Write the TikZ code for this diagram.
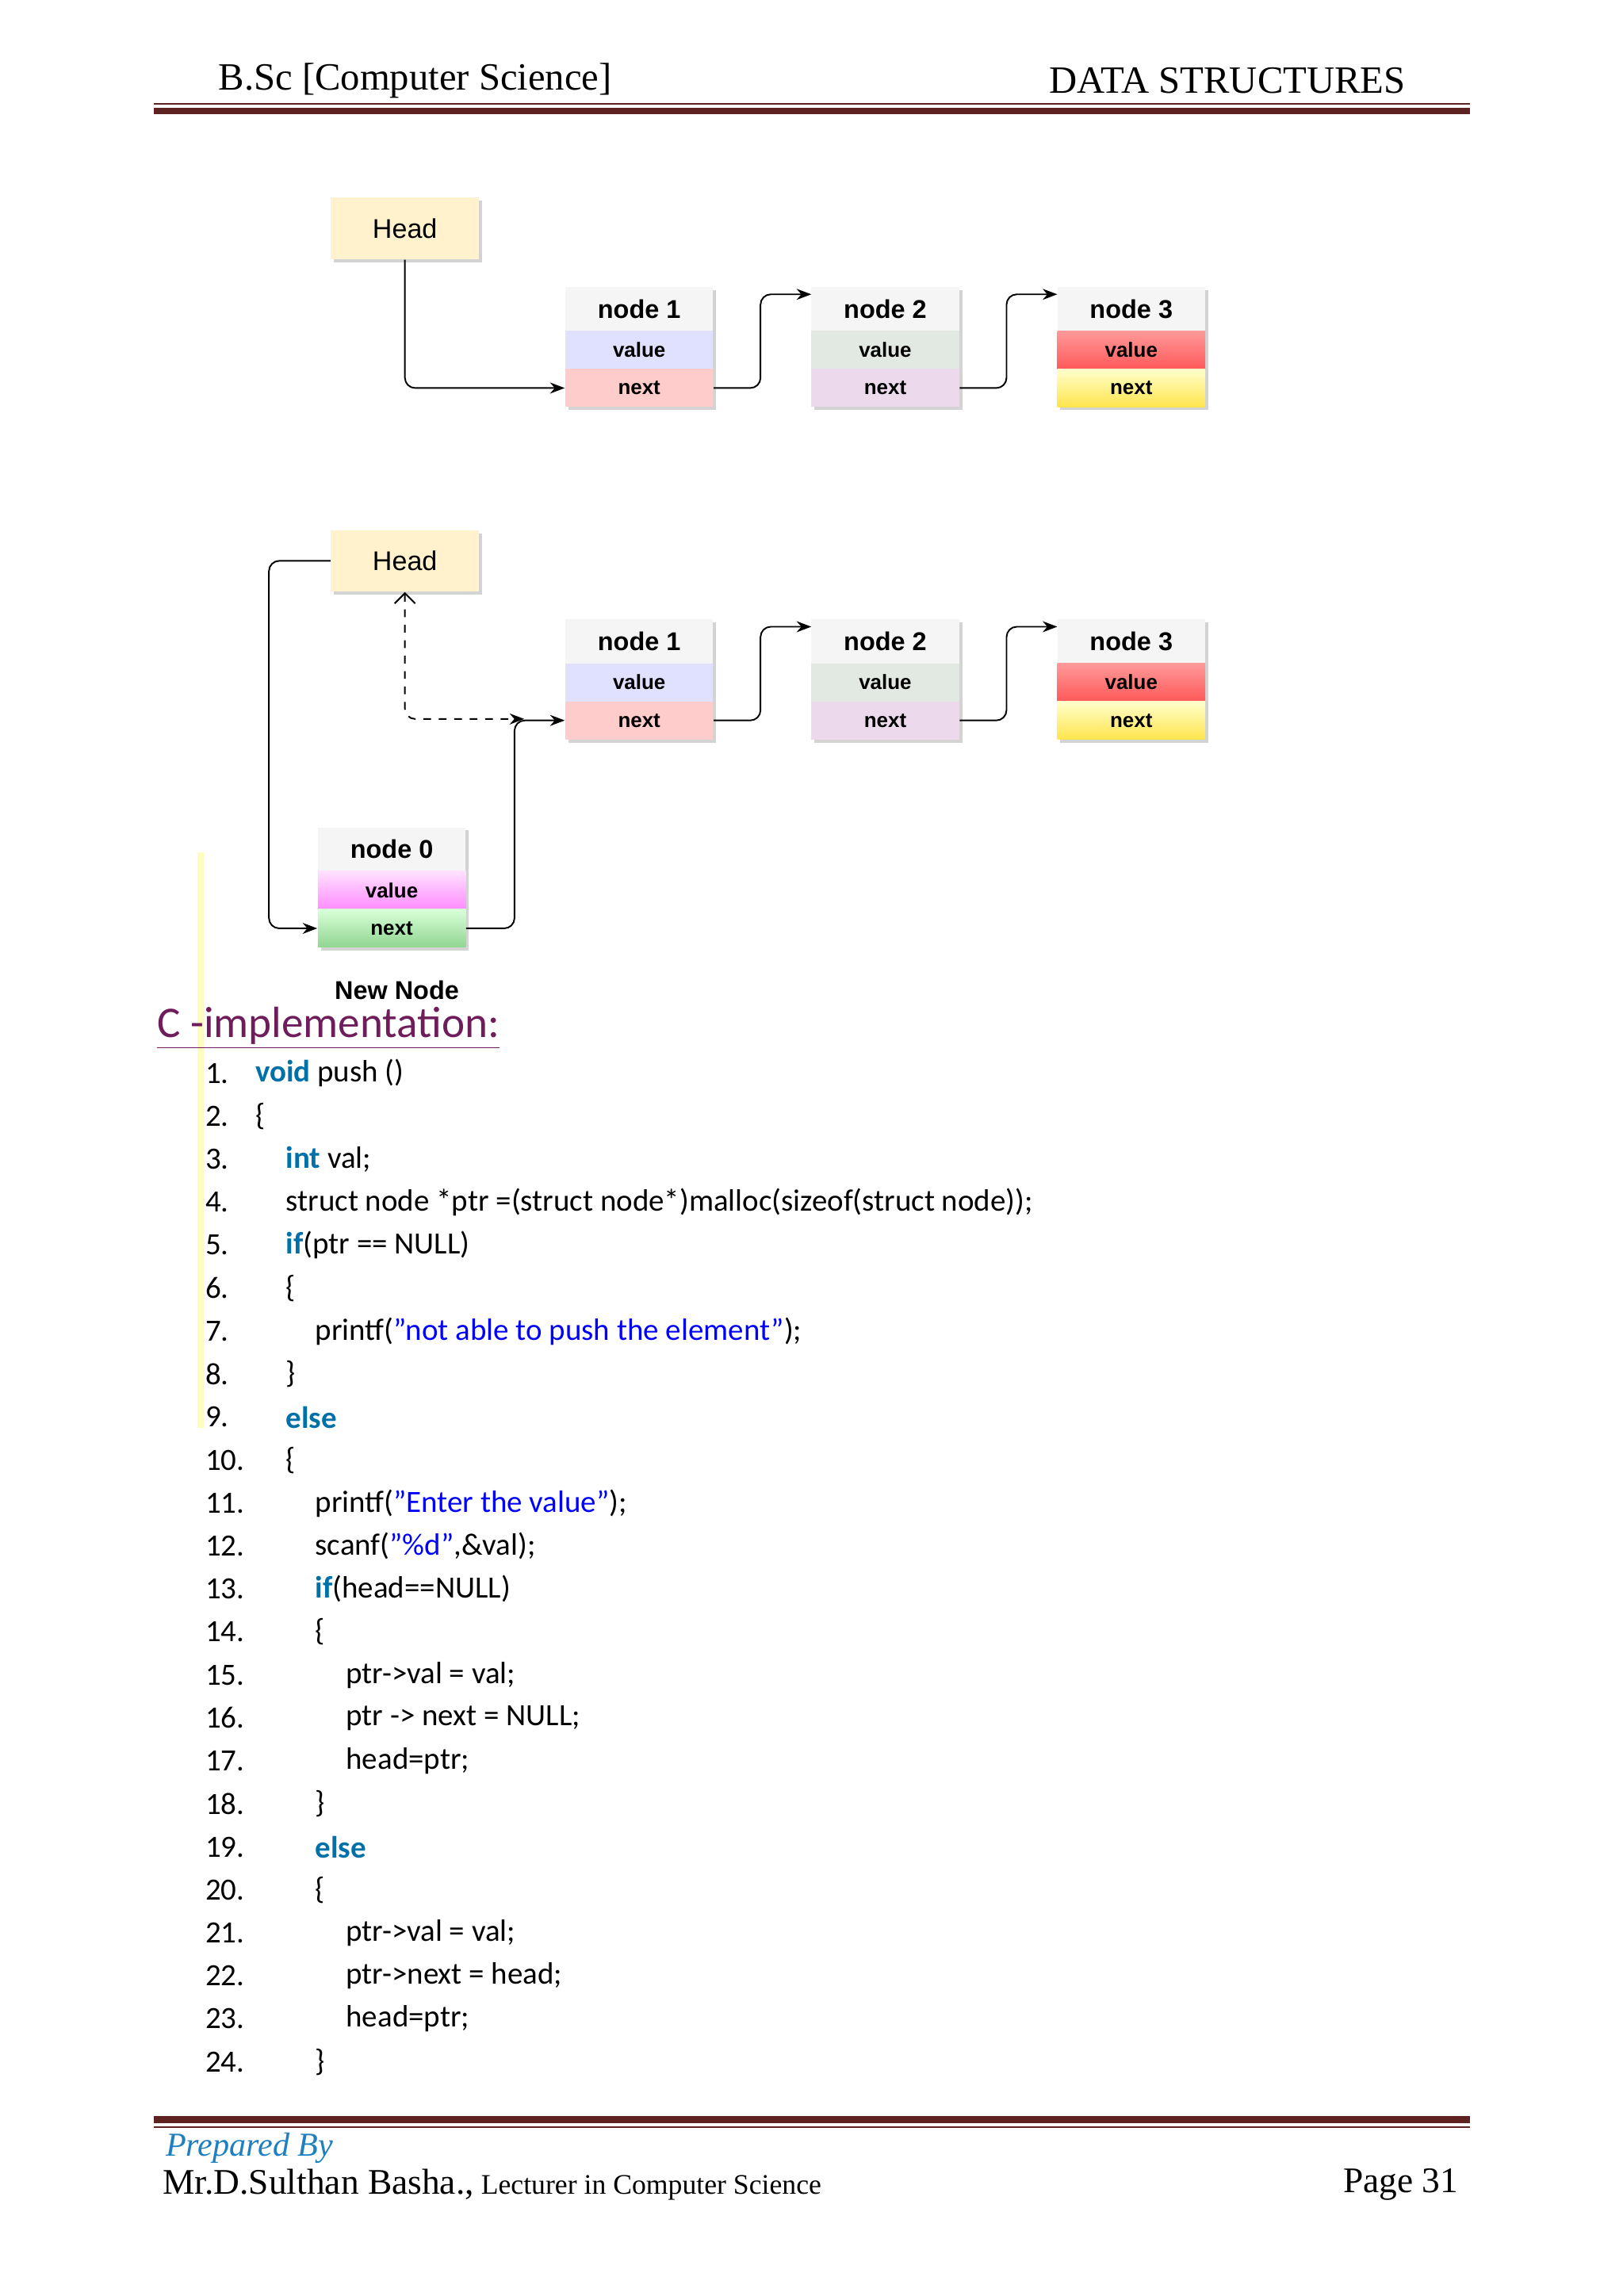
\documentclass[tikz,border=0pt]{standalone}
\usepackage{fontspec}
\setmainfont{Carlito}
\newfontfamily\hdrfont{Liberation Serif}
\newfontfamily\diagfont{Liberation Sans}
\usepackage{tikz}
\usetikzlibrary{arrows.meta,positioning,shadows}
\tikzset{>=Stealth}
\definecolor{rulered}{HTML}{5E2220}
\definecolor{kwblue}{HTML}{0070A8}
\definecolor{strblue}{HTML}{0000FF}
\definecolor{titlemag}{HTML}{6F1D5A}
\definecolor{prepblue}{HTML}{1F7FC0}
\definecolor{headfill}{HTML}{FFF2CC}
\definecolor{titlefill}{HTML}{F5F5F5}
\newcommand{\kw}[1]{\textcolor{kwblue}{\textbf{#1}}}
\newcommand{\str}[1]{\textcolor{strblue}{#1}}
% one numbered code line: number, indent (px), text
\newcommand{\codeline}[3]{%
  \node[code] (cn#1) at (140,{733+29.35*(#1-1)}) {#1.};
  \node[code] (cl#1) at (#2,{733+29.35*(#1-1)}) {#3};}

\begin{document}
\begin{tikzpicture}[x=0.02cm,y=-0.02cm,
  box/.style={draw=none,minimum width=2.02cm,inner sep=0pt,font=\diagfont,
    drop shadow={shadow xshift=1.2pt,shadow yshift=-1.2pt,opacity=.35,fill=gray}},
  ttl/.style={box,fill=titlefill,minimum height=0.6cm,font=\diagfont\bfseries\fontsize{10}{12}\selectfont},
  fld/.style={box,minimum height=0.52cm,font=\diagfont\bfseries\fontsize{8}{10}\selectfont},
  head/.style={box,fill=headfill,minimum width=2.02cm,minimum height=0.84cm,font=\diagfont\fontsize{10.5}{12}\selectfont},
  link/.style={->,rounded corners=4pt,line width=0.6pt},
  code/.style={anchor=west,inner sep=0pt,font=\fontsize{12}{14}\selectfont}]
\useasboundingbox (0,0) rectangle (1108,1568);

% Header and footer
\node[anchor=west,font=\hdrfont\fontsize{15}{17}\selectfont] (hl) at (143,55) {B.Sc [Computer Science]};
\node[anchor=east,font=\hdrfont\fontsize{15}{17}\selectfont] (hr) at (966,55) {DATA STRUCTURES};
\fill[rulered] (105,73.5) rectangle (1004,78);
\fill[rulered] (105,70.5) rectangle (1004,71.5);
\fill[rulered] (105,1445) rectangle (1004,1450);
\fill[rulered] (105,1452) rectangle (1004,1453);
\node[anchor=west,font=\hdrfont\itshape\fontsize{13}{15}\selectfont,text=prepblue] (prep) at (107,1467) {Prepared By};
\node[anchor=west,font=\hdrfont\fontsize{14}{16}\selectfont] (auth) at (105,1492) {Mr.D.Sulthan Basha.,\fontsize{11}{13}\selectfont{} Lecturer in Computer Science};
\node[anchor=east,font=\hdrfont\fontsize{14}{16}\selectfont] (page) at (1002,1492) {Page 31};
\fill[yellow!25] (135,582) rectangle (139,975);

% Top list
\node[head] (h1) at (276.5,156) {Head};
\node[ttl] (a1t) at (436.5,211) {node 1};
\node[fld,fill=blue!12] (a1v) at (436.5,239) {value};
\node[fld,fill=red!20] (a1n) at (436.5,265) {next};
\node[ttl] (a2t) at (604.5,211) {node 2};
\node[fld,fill=green!14!gray!20] (a2v) at (604.5,239) {value};
\node[fld,fill=violet!15] (a2n) at (604.5,265) {next};
\node[ttl] (a3t) at (772.5,211) {node 3};
\node[fld,top color=red!40,bottom color=red!65] (a3v) at (772.5,239) {value};
\node[fld,top color=yellow!20,bottom color=yellow!70!orange!70] (a3n) at (772.5,265) {next};
\coordinate (a2in) at (554,201);
\coordinate (a3in) at (722,201);
\draw[link] (h1.south) |- (a1n.west);
\draw[link] (a1n.east) -- ++(32,0) |- (a2in);
\draw[link] (a2n.east) -- ++(32,0) |- (a3in);

% Bottom list
\node[head] (h2) at (276.5,383) {Head};
\node[ttl] (b1t) at (436.5,438) {node 1};
\node[fld,fill=blue!12] (b1v) at (436.5,466) {value};
\node[fld,fill=red!20] (b1n) at (436.5,492) {next};
\node[ttl] (b2t) at (604.5,438) {node 2};
\node[fld,fill=green!14!gray!20] (b2v) at (604.5,466) {value};
\node[fld,fill=violet!15] (b2n) at (604.5,492) {next};
\node[ttl] (b3t) at (772.5,438) {node 3};
\node[fld,top color=red!40,bottom color=red!65] (b3v) at (772.5,466) {value};
\node[fld,top color=yellow!20,bottom color=yellow!70!orange!70] (b3n) at (772.5,492) {next};
\node[ttl] (b0t) at (267.5,580) {node 0};
\node[fld,top color=magenta!12,bottom color=magenta!45] (b0v) at (267.5,608) {value};
\node[fld,top color=green!15,bottom color=green!45!gray!60] (b0n) at (267.5,634) {next};
\node[font=\diagfont\bfseries\fontsize{10}{12}\selectfont] (newn) at (271,676) {New Node};
\coordinate (b2in) at (554,428);
\coordinate (b3in) at (722,428);
\coordinate (jn) at (358,491);
\draw[link] (b1n.east) -- ++(32,0) |- (b2in);
\draw[link] (b2n.east) -- ++(32,0) |- (b3in);
\draw[link] (h2.west) -- ++(-42,0) |- (b0n.west);
\draw[link] (b0n.east) -- ++(33,0) |- (b1n.west);
\draw[link,dashed,{Straight Barb[open,length=4pt]}-{Stealth}] (h2.south) |- (jn);

% C implementation
\node[anchor=west,inner sep=0pt,text=titlemag,font=\fontsize{17}{19}\selectfont] (ctitle) at (107,702) {\underline{C -implementation:}};
\codeline{1}{174}{\kw{void} push ()}
\codeline{2}{174}{\{}
\codeline{3}{195}{\kw{int} val;}
\codeline{4}{195}{struct node *ptr =(struct node*)malloc(sizeof(struct node));}
\codeline{5}{195}{\kw{if}(ptr == NULL)}
\codeline{6}{195}{\{}
\codeline{7}{215}{printf(\str{"not able to push the element"});}
\codeline{8}{195}{\}}
\codeline{9}{195}{\kw{else}}
\codeline{10}{195}{\{}
\codeline{11}{215}{printf(\str{"Enter the value"});}
\codeline{12}{215}{scanf(\str{"\%d"},\&val);}
\codeline{13}{215}{\kw{if}(head==NULL)}
\codeline{14}{215}{\{}
\codeline{15}{236}{ptr->val = val;}
\codeline{16}{236}{ptr -> next = NULL;}
\codeline{17}{236}{head=ptr;}
\codeline{18}{215}{\}}
\codeline{19}{215}{\kw{else}}
\codeline{20}{215}{\{}
\codeline{21}{236}{ptr->val = val;}
\codeline{22}{236}{ptr->next = head;}
\codeline{23}{236}{head=ptr;}
\codeline{24}{215}{\}}
\end{tikzpicture}
\end{document}
